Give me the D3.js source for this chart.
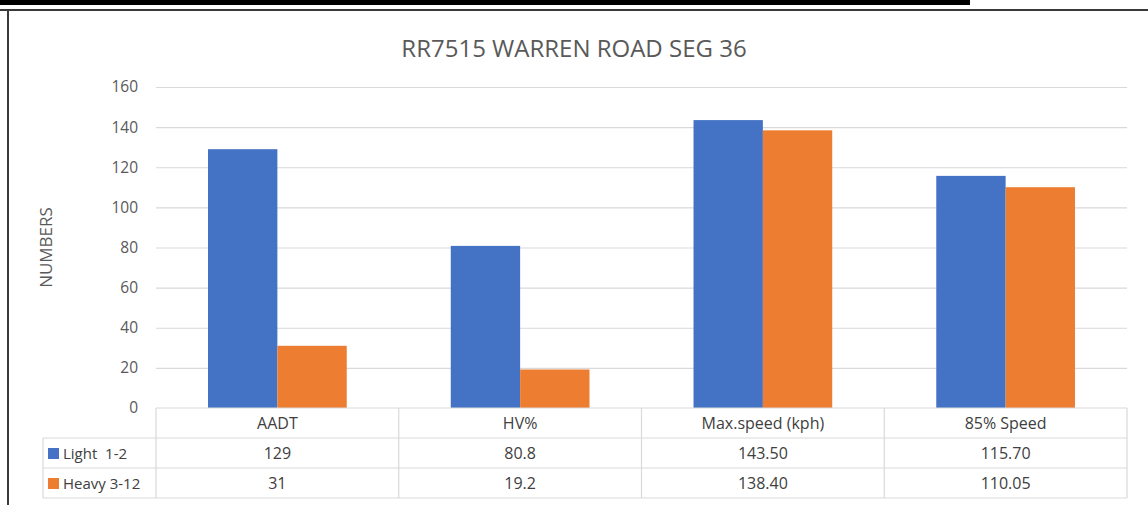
<!DOCTYPE html>
<html>
<head>
<meta charset="utf-8">
<script src="https://cdn.jsdelivr.net/npm/d3@7"></script>
<style>
  body { margin: 0; background: #fff; }
  svg { display: block; font-family: "Open Sans", sans-serif; }
</style>
</head>
<body>
<div id="chart"></div>
<script>
// --- Data ---
const categories = ["AADT", "HV%", "Max.speed (kph)", "85% Speed"];
const seriesNames = ["Light  1-2", "Heavy 3-12"];
const lightValues = [129, 80.8, 143.50, 115.70];
const heavyValues = [31, 19.2, 138.40, 110.05];
const lightLabels = ["129", "80.8", "143.50", "115.70"];
const heavyLabels = ["31", "19.2", "138.40", "110.05"];
const yTicks = [0, 20, 40, 60, 80, 100, 120, 140, 160];
const colors = ["#4472C4", "#ED7D31"];

const W = 1148, H = 505;
const plot = {left: 156, right: 1127, top: 87, bottom: 408};
const rowH = 30;
const legendLeft = 43;

const svg = d3.select("#chart").append("svg")
  .attr("width", W).attr("height", H);

// frame bits from the screenshot
svg.append("rect").attr("x", 0).attr("y", 0).attr("width", 970).attr("height", 5).attr("fill", "#000");
svg.append("line").attr("x1", 0).attr("x2", W).attr("y1", 10).attr("y2", 10)
  .attr("stroke", "#3a3a3a").attr("stroke-width", 2);
svg.append("line").attr("x1", 8).attr("x2", 8).attr("y1", 10).attr("y2", H)
  .attr("stroke", "#3a3a3a").attr("stroke-width", 2);

// --- Scales ---
const x = d3.scaleBand().domain(categories).range([plot.left, plot.right]).padding(0);
const x1 = d3.scaleBand().domain([0, 1]).range([0, x.bandwidth()]).paddingInner(0).paddingOuter(0.75);
const y = d3.scaleLinear().domain([0, 160]).range([plot.bottom, plot.top]);

// --- Gridlines + ticks ---
const yAxis = d3.axisLeft(y).tickValues(yTicks).tickSize(-(plot.right - plot.left)).tickPadding(18);
const gy = svg.append("g").attr("transform", `translate(${plot.left},0)`).call(yAxis);
gy.select(".domain").remove();
gy.selectAll(".tick line").attr("stroke", "#d9d9d9").attr("stroke-width", 1.2)
  .filter(d => d === 0).remove();
gy.selectAll(".tick text").attr("fill", "#595959").attr("font-size", 15.5)
  .attr("font-family", "Open Sans, sans-serif");

// --- Bars ---
const rows = categories.map((c, i) => ({cat: c, vals: [lightValues[i], heavyValues[i]]}));
const groups = svg.append("g").selectAll("g").data(rows).join("g")
  .attr("transform", d => `translate(${x(d.cat)},0)`);
groups.selectAll("rect").data(d => d.vals.map((v, k) => ({k, v}))).join("rect")
  .attr("x", d => x1(d.k))
  .attr("width", x1.bandwidth())
  .attr("y", d => y(d.v))
  .attr("height", d => y(0) - y(d.v))
  .attr("fill", d => colors[d.k]);

// --- Title ---
svg.append("text").attr("x", 574).attr("y", 57).attr("text-anchor", "middle")
  .attr("font-size", 24).attr("fill", "#595959").text("RR7515 WARREN ROAD SEG 36");

// --- Y axis title ---
svg.append("text").attr("transform", `translate(52,${(plot.top + plot.bottom) / 2}) rotate(-90)`)
  .attr("text-anchor", "middle").attr("font-size", 17).attr("fill", "#595959").text("NUMBERS");

// --- Data table ---
const tbl = svg.append("g").attr("stroke", "#d9d9d9").attr("stroke-width", 1.2);
const t0 = plot.bottom;
// horizontal lines
tbl.append("line").attr("x1", plot.left).attr("x2", plot.right).attr("y1", t0).attr("y2", t0);
[1, 2, 3].forEach(r => {
  tbl.append("line").attr("x1", legendLeft).attr("x2", plot.right)
    .attr("y1", t0 + r * rowH).attr("y2", t0 + r * rowH);
});
// vertical lines
tbl.append("line").attr("x1", legendLeft).attr("x2", legendLeft).attr("y1", t0 + rowH).attr("y2", t0 + 3 * rowH);
categories.forEach(c => {
  tbl.append("line").attr("x1", x(c)).attr("x2", x(c)).attr("y1", t0).attr("y2", t0 + 3 * rowH);
});
tbl.append("line").attr("x1", plot.right).attr("x2", plot.right).attr("y1", t0).attr("y2", t0 + 3 * rowH);

const tt = svg.append("g").attr("font-size", 16).attr("fill", "#404040").attr("text-anchor", "middle");
categories.forEach((c, i) => {
  const cx = x(c) + x.bandwidth() / 2;
  tt.append("text").attr("x", cx).attr("y", t0 + rowH / 2 + 6).text(c);
  tt.append("text").attr("x", cx).attr("y", t0 + 1.5 * rowH + 6).text(lightLabels[i]);
  tt.append("text").attr("x", cx).attr("y", t0 + 2.5 * rowH + 6).text(heavyLabels[i]);
});

seriesNames.forEach((s, k) => {
  const cy = t0 + (1.5 + k) * rowH;
  svg.append("rect").attr("x", 48).attr("y", cy - 5).attr("width", 11).attr("height", 11).attr("fill", colors[k]);
  svg.append("text").attr("x", 63).attr("y", cy + 6).attr("font-size", 15).attr("fill", "#404040")
    .style("white-space", "pre").text(s);
});
</script>
</body>
</html>
